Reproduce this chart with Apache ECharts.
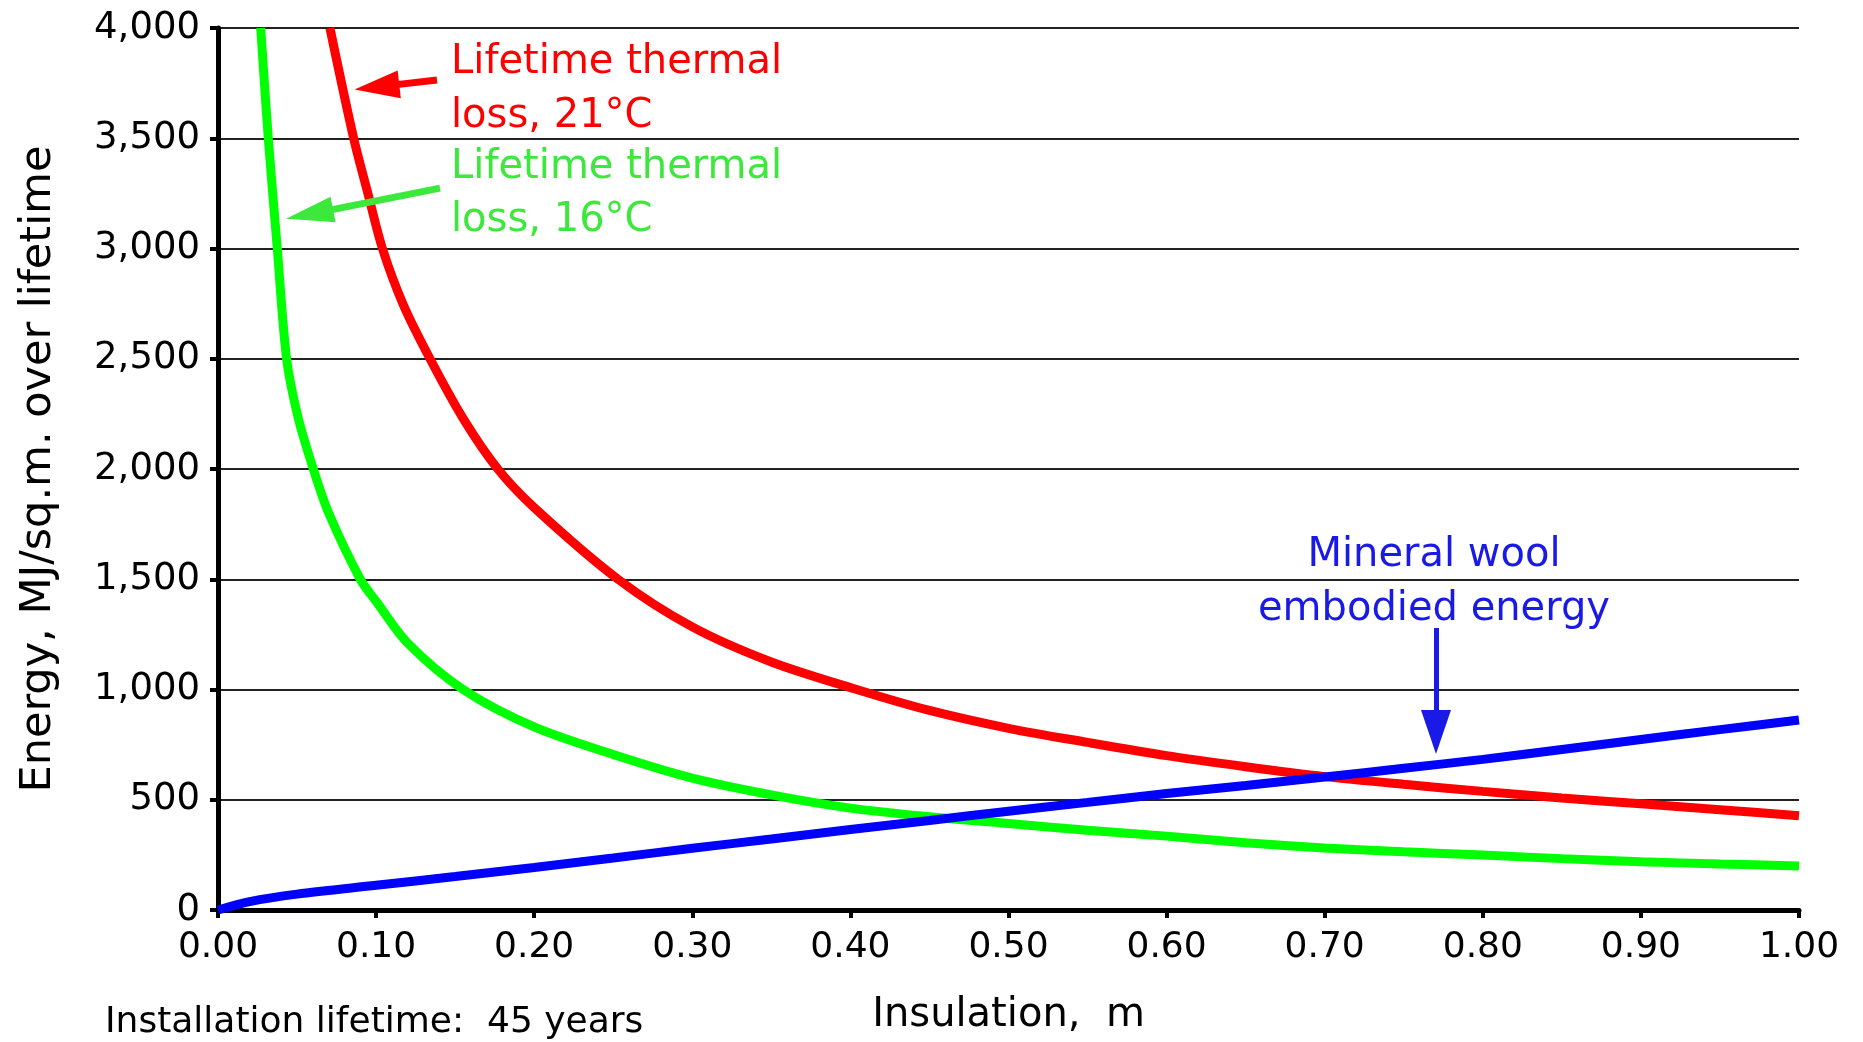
<!DOCTYPE html>
<html>
<head>
<meta charset="utf-8">
<title>Insulation energy</title>
<script src="https://cdn.jsdelivr.net/npm/echarts@6/dist/echarts.min.js"></script>
<style>
  html, body { margin: 0; padding: 0; background: #ffffff; }
  #chart { width: 1863px; height: 1042px; }
</style>
</head>
<body>
<div id="chart"></div>
<script>
// insulation thickness (m) and energy (MJ/sq.m. over lifetime)
const redX = [0.0708, 0.0858, 0.0948, 0.104, 0.1172, 0.1341, 0.155, 0.177, 0.2, 0.253, 0.3, 0.35, 0.404, 0.45, 0.5, 0.55, 0.6, 0.65, 0.7, 0.75, 0.8, 0.85, 0.9, 0.95, 1.0]
const redY = [4000, 3500, 3250, 3000, 2745, 2500, 2230, 2000, 1825, 1500, 1284, 1125, 1000, 905, 824, 760, 700, 650, 605, 570, 538, 508, 482, 455, 427]

const greenX = [0.027, 0.0318, 0.0375, 0.0434, 0.0508, 0.0607, 0.07, 0.09, 0.1, 0.12, 0.155, 0.2, 0.25, 0.3, 0.35, 0.4, 0.45, 0.5, 0.55, 0.6, 0.65, 0.7, 0.75, 0.8, 0.85, 0.9, 0.95, 1.0]
const greenY = [4000, 3500, 3000, 2500, 2230, 1990, 1800, 1500, 1400, 1210, 1000, 830, 705, 598, 522, 462, 423, 392, 362, 335, 305, 281, 264, 249, 233, 219, 209, 200]

const blueX = [0, 0.02, 0.05, 0.1, 0.15, 0.2, 0.25, 0.3, 0.35, 0.4, 0.45, 0.5, 0.55, 0.6, 0.65, 0.7, 0.75, 0.8, 0.85, 0.9, 0.95, 1.0]
const blueY = [0, 38, 72, 112, 152, 193, 236, 280, 322, 365, 406, 448, 488, 528, 565, 603, 643, 683, 728, 773, 818, 862]

const font = '"DejaVu Sans", Verdana, sans-serif'

function pairs(xs, ys) {
  return xs.map((x, i) => [x, ys[i]])
}

function arrow(color, width, size, from, to) {
  return {
    silent: true,
    symbol: ['none', 'triangle'],
    symbolSize: size,
    label: { show: false },
    emphasis: { disabled: true },
    lineStyle: { color: color, width: width, type: 'solid' },
    data: [[{ coord: from }, { coord: to }]]
  }
}

function initChart() {
  const chart = echarts.init(document.getElementById('chart'), null, { renderer: 'canvas' })
  chart.setOption({
    backgroundColor: '#ffffff',
    animation: false,
    textStyle: { fontFamily: font },
    grid: {
      left: 218,
      right: 64,
      top: 28,
      bottom: 132,
      containLabel: false,
      outerBoundsMode: 'none'
    },
    xAxis: {
      type: 'value',
      min: 0,
      max: 1,
      interval: 0.1,
      name: 'Insulation,  m',
      nameLocation: 'middle',
      nameGap: 86,
      nameTextStyle: { fontSize: 40, color: '#000', fontFamily: font },
      axisLine: { show: true, onZero: false, lineStyle: { color: '#000', width: 5 } },
      axisTick: { show: true, length: 8, lineStyle: { color: '#000', width: 4 } },
      axisLabel: {
        fontSize: 36,
        color: '#000',
        margin: 20,
        fontFamily: font,
        formatter: v => v.toFixed(2)
      },
      splitLine: { show: false }
    },
    yAxis: {
      type: 'value',
      min: 0,
      max: 4000,
      interval: 500,
      name: 'Energy, MJ/sq.m. over lifetime',
      nameLocation: 'middle',
      nameGap: 158,
      nameTextStyle: { fontSize: 43, color: '#000', fontFamily: font },
      axisLine: { show: true, lineStyle: { color: '#000', width: 5 } },
      axisTick: { show: true, length: 8, lineStyle: { color: '#000', width: 4 } },
      axisLabel: {
        fontSize: 37,
        color: '#000',
        margin: 18,
        fontFamily: font,
        formatter: v => v.toLocaleString('en-US')
      },
      splitLine: { show: true, lineStyle: { color: '#222', width: 2 } }
    },
    series: [
      {
        name: 'Lifetime thermal loss, 21°C',
        type: 'line',
        data: pairs(redX, redY),
        smooth: 0.3,
        showSymbol: false,
        lineStyle: { color: '#ff0000', width: 9 },
        markLine: arrow('#ff0000', 7, [28, 45], [0.1385, 3764], [0.1005, 3733])
      },
      {
        name: 'Lifetime thermal loss, 16°C',
        type: 'line',
        data: pairs(greenX, greenY),
        smooth: 0.3,
        showSymbol: false,
        lineStyle: { color: '#00ff00', width: 9 },
        markLine: arrow('#3de83d', 7, [26, 48], [0.1404, 3274], [0.0579, 3156])
      },
      {
        name: 'Mineral wool embodied energy',
        type: 'line',
        data: pairs(blueX, blueY),
        smooth: 0.3,
        showSymbol: false,
        lineStyle: { color: '#0000ff', width: 9 },
        markLine: arrow('#1a1ae6', 5, [30, 44], [0.7704, 1279], [0.7704, 807])
      }
    ],
    graphic: [
      {
        type: 'text',
        left: 451,
        top: 36,
        style: { text: 'Lifetime thermal\nloss, 21°C', font: '40px ' + font, fill: '#ff0000', lineHeight: 54 }
      },
      {
        type: 'text',
        left: 451,
        top: 141,
        style: { text: 'Lifetime thermal\nloss, 16°C', font: '40px ' + font, fill: '#3de83d', lineHeight: 53 }
      },
      {
        type: 'group',
        x: 1434,
        y: 536,
        children: [
          {
            type: 'text',
            x: 0,
            y: 0,
            style: { text: 'Mineral wool', font: '40px ' + font, fill: '#1a1ae6', align: 'center', textAlign: 'center' }
          },
          {
            type: 'text',
            x: 0,
            y: 54,
            style: { text: 'embodied energy', font: '40px ' + font, fill: '#1a1ae6', align: 'center', textAlign: 'center' }
          }
        ]
      },
      {
        type: 'text',
        left: 105,
        top: 1005,
        style: { text: 'Installation lifetime:  45 years', font: '36px ' + font, fill: '#000' }
      }
    ]
  })
}

initChart()
</script>
</body>
</html>
